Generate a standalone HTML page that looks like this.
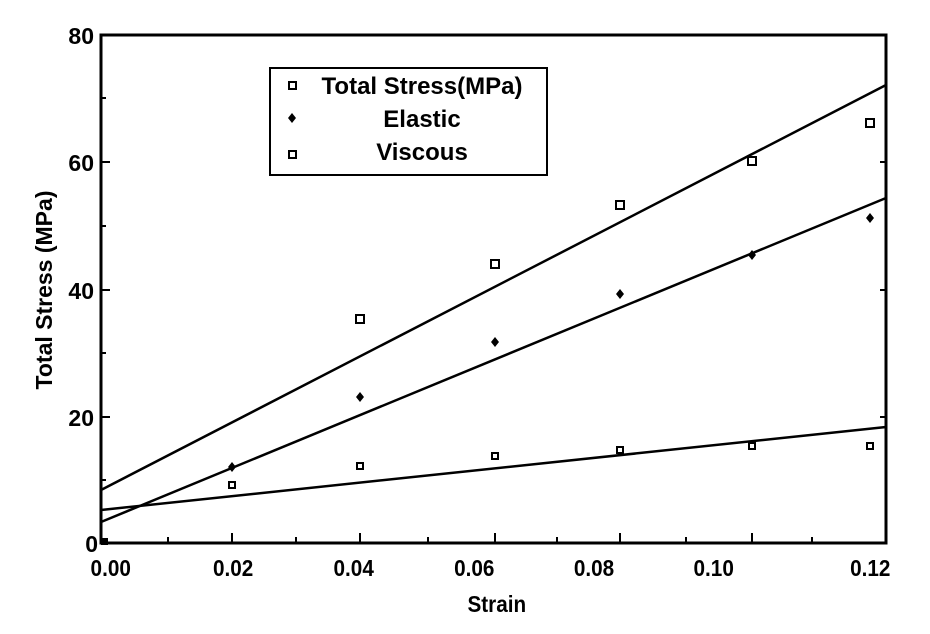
<!DOCTYPE html>
<html><head><style>body{margin:0;background:#fff}</style></head><body>
<svg width="930" height="629" xmlns="http://www.w3.org/2000/svg" font-family="Liberation Sans, sans-serif" font-weight="bold">
<rect width="930" height="629" fill="#fff"/>
<rect x="101" y="35" width="785" height="508" fill="none" stroke="#000" stroke-width="3"/>
<g stroke="#000" stroke-width="2">
<line x1="101" y1="162" x2="110" y2="162"/><line x1="101" y1="290" x2="110" y2="290"/><line x1="101" y1="417" x2="110" y2="417"/>
<line x1="101" y1="98" x2="106" y2="98"/><line x1="101" y1="226" x2="106" y2="226"/><line x1="101" y1="353" x2="106" y2="353"/><line x1="101" y1="480" x2="106" y2="480"/>
<line x1="886" y1="162" x2="880" y2="162"/><line x1="886" y1="290" x2="880" y2="290"/><line x1="886" y1="417" x2="880" y2="417"/>
<line x1="232" y1="543" x2="232" y2="533"/><line x1="360" y1="543" x2="360" y2="533"/><line x1="495" y1="543" x2="495" y2="533"/><line x1="620" y1="543" x2="620" y2="533"/><line x1="752" y1="543" x2="752" y2="533"/>
<line x1="168" y1="543" x2="168" y2="537"/><line x1="296" y1="543" x2="296" y2="537"/><line x1="428" y1="543" x2="428" y2="537"/><line x1="557" y1="543" x2="557" y2="537"/><line x1="686" y1="543" x2="686" y2="537"/><line x1="812" y1="543" x2="812" y2="537"/>
</g>
<g stroke="#000" stroke-width="2.5">
<line x1="101" y1="490" x2="886" y2="85"/>
<line x1="101" y1="522" x2="886" y2="198"/>
<line x1="101" y1="510" x2="886" y2="427"/>
</g>
<g fill="#fff" stroke="#000" stroke-width="2">
<rect x="356" y="315" width="8" height="8"/><rect x="491" y="260" width="8" height="8"/><rect x="616" y="201" width="8" height="8"/><rect x="748" y="157" width="8" height="8"/><rect x="866" y="119" width="8" height="8"/>
<rect x="229" y="482" width="6" height="6"/><rect x="357" y="463" width="6" height="6"/><rect x="492" y="453" width="6" height="6"/><rect x="617" y="447" width="6" height="6"/><rect x="749" y="443" width="6" height="6"/><rect x="867" y="443" width="6" height="6"/>
</g>
<rect x="101" y="538" width="7" height="7" fill="#000"/>
<g fill="#000">
<path d="M232 462l4 5-4 5-4-5z"/><path d="M360 392l4 5-4 5-4-5z"/><path d="M495 337l4 5-4 5-4-5z"/><path d="M620 289l4 5-4 5-4-5z"/><path d="M752 250l4 5-4 5-4-5z"/><path d="M870 213l4 5-4 5-4-5z"/>
</g>
<rect x="270" y="68" width="277" height="107" fill="#fff" stroke="#000" stroke-width="2"/>
<rect x="289" y="82" width="7" height="7" fill="#fff" stroke="#000" stroke-width="2"/>
<path d="M292 113l4 5-4 5-4-5z" fill="#000"/>
<rect x="289" y="151" width="7" height="7" fill="#fff" stroke="#000" stroke-width="2"/>
<g font-size="24" text-anchor="middle">
<text x="422" y="94">Total Stress(MPa)</text>
<text x="422" y="127">Elastic</text>
<text x="422" y="160">Viscous</text>
</g>
<g font-size="23" text-anchor="end">
<text x="94" y="44">80</text><text x="94" y="171">60</text><text x="94" y="299">40</text><text x="94" y="426">20</text><text x="98" y="552">0</text>
</g>
<g font-size="23" text-anchor="middle">
<g transform="scale(0.9,1)">
<text x="123" y="576">0.00</text><text x="259" y="576">0.02</text><text x="393" y="576">0.04</text><text x="527" y="576">0.06</text><text x="660" y="576">0.08</text><text x="793" y="576">0.10</text><text x="967" y="576">0.12</text>
<text x="552" y="612">Strain</text>
</g>
<text transform="translate(52,290) rotate(-90)">Total Stress (MPa)</text>
</g>
</svg>
</body></html>
